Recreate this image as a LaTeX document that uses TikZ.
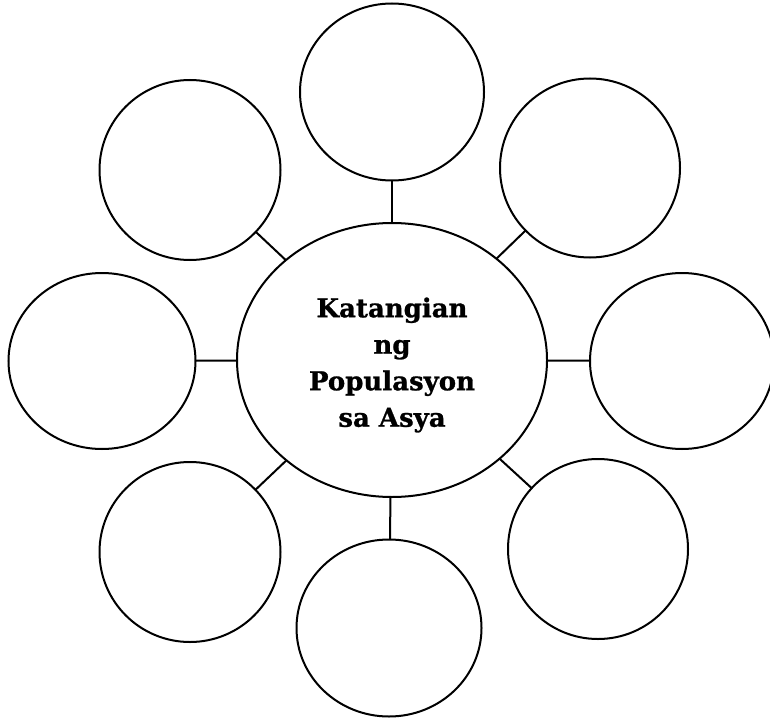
\documentclass[tikz,border=0pt]{standalone}
\usepackage{fontspec}
\setmainfont{DejaVu Serif}
\newfontfamily\titlefont{DejaVu Serif}[FakeBold=1]
\usetikzlibrary{shapes.geometric}
\tikzset{
  bubble/.style={draw=black, line width=2pt, ellipse, inner sep=0pt, outer sep=0pt, fill=white},
  link/.style={draw=black, line width=2pt},
  title/.style={align=center, font=\titlefont\bfseries\fontsize{26}{36.5}\selectfont, inner sep=0pt}
}
\begin{document}
\begin{tikzpicture}[x=1pt, y=-1pt]
\useasboundingbox (0,0) rectangle (770,719);
\node[bubble, minimum width=310pt, minimum height=274pt] (c) at (392,360) {};
\node[bubble, minimum width=184pt, minimum height=177pt] (top) at (392,92) {};
\node[bubble, minimum width=181pt, minimum height=180pt] (tl) at (190,170) {};
\node[bubble, minimum width=180pt, minimum height=179pt] (tr) at (590,168) {};
\node[bubble, minimum width=187pt, minimum height=176pt] (l) at (102,361) {};
\node[bubble, minimum width=184pt, minimum height=176pt] (r) at (682,361) {};
\node[bubble, minimum width=181pt, minimum height=180pt] (bl) at (190,552) {};
\node[bubble, minimum width=180pt, minimum height=180pt] (br) at (598,549) {};
\node[bubble, minimum width=185pt, minimum height=177pt] (bot) at (389,628) {};
\node[title] (t) at (392,365) {Katangian\\ng\\Populasyon\\sa Asya};
\draw[link] (c) -- (top);
\draw[link] (c) -- (tl);
\draw[link] (c) -- (tr);
\draw[link] (c) -- (l);
\draw[link] (c) -- (r);
\draw[link] (c) -- (bl);
\draw[link] (c) -- (br);
\draw[link] (c) -- (bot);
\end{tikzpicture}
\end{document}
